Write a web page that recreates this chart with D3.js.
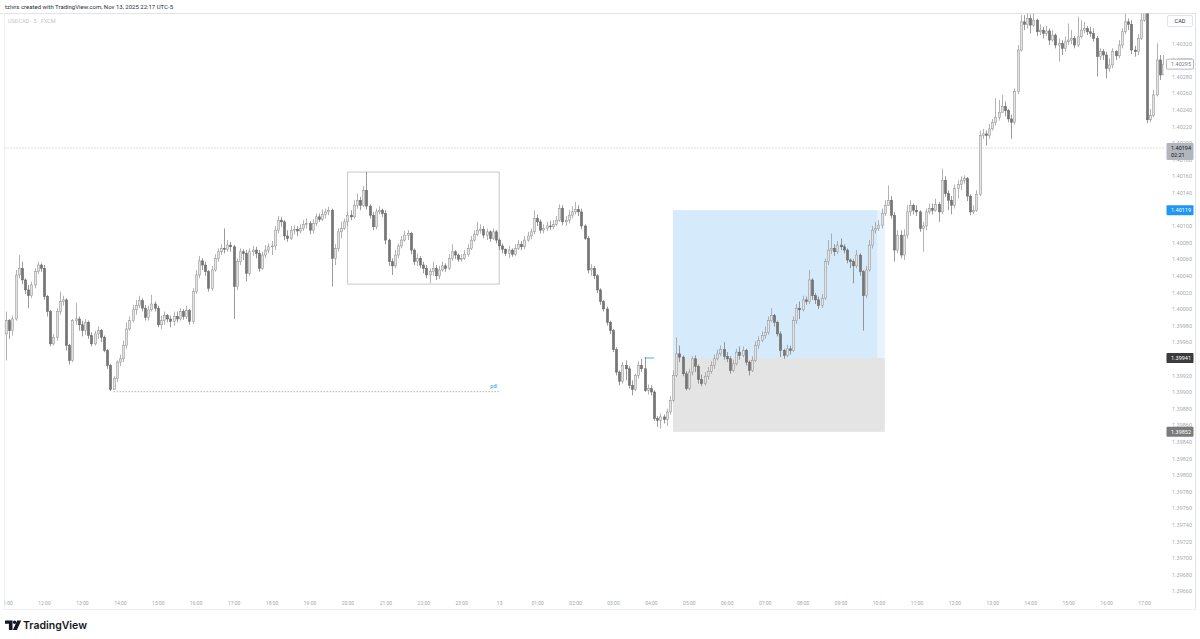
<!DOCTYPE html>
<html><head><meta charset="utf-8">
<script src="https://cdn.jsdelivr.net/npm/d3@7"></script>
<style>
body{margin:0;background:#fff;}
svg{display:block;font-family:Roboto,"Noto Sans",sans-serif;}
</style>
</head><body>
<svg id="chart" width="1200" height="639"></svg>
<script>
// ---------- DATA ----------
const headerText = "tzlvrs created with TradingView.com, Nov 13, 2025 22:17 UTC-5";
const symbolTitle = "USDCAD · 5 · FXCM";
const currencyLabel = "CAD";
const firstBarTime = new Date(2025, 10, 12, 11, 0);
const barMinutes = 5;
// prices stored in points above 1.39000 (1 point = 0.00001)
const pointBase = 1.39, pointSize = 0.00001;
const firstOpen = 970;
// each bar: [close, high, low]; open = previous close
const barsNov12Afternoon = [
[986,997,938],[974,988,964],[988,992,968],[1041,1047,986],[1049,1065,1037],[1035,1057,1030],[1023,1037,1018],[1016,1029,1001],[1029,1033,1013],[1045,1049,1025],
[1053,1057,1042],[1049,1055,1045],[1015,1053,1011],[997,1017,991],[958,999,955],[966,970,956],[997,1001,962],[1009,1021,993],[1011,1016,1004],[956,1013,950],
[938,958,933],[986,988,936],[988,1007,981],[981,991,974],[974,986,967],[984,988,969],[968,986,964],[958,972,955],[970,974,956],[974,979,964],
[966,976,960],[950,968,948],[932,952,928],[903,934,901],[916,919,903],[936,938,912],[940,945,931],[956,962,936],[976,984,952],[986,991,974],
[999,1005,984],[1004,1011,993],[1010,1016,1001],[1001,1013,997],[990,1005,986],[999,1004,986],[1006,1017,997],[1001,1009,997],[981,1004,978],[986,992,976],
[992,997,981],[988,994,984],[985,992,978],[991,997,980],[988,997,984],[997,1001,986],[991,1000,987],[998,1004,988],[985,1000,981],[1021,1025,982],
[1041,1047,1018],[1058,1064,1037],[1053,1061,1047],[1045,1057,1040],[1025,1047,1021],[1047,1052,1022],[1061,1066,1045],[1069,1073,1057],[1073,1078,1065],[1072,1097,1067],
[1077,1083,1069],[1075,1081,1069]
];
const barsNov12Evening = [
[1027,1077,988],[1057,1061,1023],[1069,1073,1053],[1067,1072,1059],[1043,1071,1033],[1069,1073,1040],[1071,1076,1064],[1067,1075,1061],
[1049,1071,1045],[1065,1069,1047],[1071,1077,1061],[1075,1079,1067],[1076,1082,1065],[1095,1100,1071],[1107,1112,1091],[1105,1111,1099],[1088,1107,1083],[1085,1095,1081],
[1095,1100,1083],[1096,1101,1090],[1094,1100,1088],[1097,1102,1091],[1102,1107,1094],[1103,1109,1097],[1095,1106,1090],[1103,1108,1091],[1111,1115,1100],[1108,1115,1105],
[1114,1120,1106],[1117,1121,1109],[1119,1123,1113],[1061,1121,1027],[1073,1078,1053],[1093,1097,1069],[1097,1105,1085],[1105,1109,1095],[1113,1117,1100],[1111,1119,1107],
[1125,1131,1109],[1131,1139,1121],[1125,1135,1119],[1143,1148,1123],[1124,1165,1120],[1113,1126,1109],[1099,1117,1095],[1117,1121,1096],[1119,1124,1114],[1115,1121,1111],
[1083,1119,1078],[1057,1085,1052],[1052,1061,1041],[1065,1071,1049],[1076,1079,1061],[1083,1088,1073],[1089,1094,1081],[1091,1095,1083],[1071,1093,1066],[1057,1073,1053],
[1061,1067,1052],[1053,1064,1049],[1049,1057,1043],[1041,1053,1037],[1045,1049,1031],[1049,1057,1040],[1040,1053,1035],[1047,1052,1036],[1052,1057,1045],[1049,1055,1045],
[1061,1066,1047],[1069,1078,1058],[1065,1071,1060],[1060,1067,1057],[1061,1066,1057],[1066,1071,1059],[1073,1078,1063],[1083,1088,1071],[1090,1095,1081],[1095,1105,1088],
[1096,1102,1091],[1089,1100,1085],[1093,1097,1083],[1085,1095,1081],[1093,1097,1083],[1083,1095,1079]
];
const barsNov13Asia = [
[1076,1085,1071],[1072,1079,1067],[1067,1073,1064],[1071,1076,1061],
[1066,1073,1063],[1073,1078,1064],[1078,1083,1071],[1075,1082,1071],[1083,1088,1072],[1088,1093,1081],[1093,1097,1084],[1109,1119,1090],[1105,1114,1100],[1095,1108,1091],
[1097,1102,1091],[1100,1105,1094],[1099,1106,1095],[1102,1107,1096],[1107,1112,1100],[1121,1126,1105],[1105,1125,1101],[1107,1112,1100],[1113,1119,1103],[1117,1124,1109],
[1120,1129,1114],[1117,1125,1112],[1100,1121,1096],[1085,1102,1083],[1047,1088,1043],[1049,1054,1040],[1040,1052,1036],[1023,1042,1019],[1009,1025,1005],[1000,1011,997],
[984,1003,980],[974,986,970],[951,976,948],[924,954,920],[913,926,908],[932,936,910],[928,938,914],[908,931,904],[903,914,896],[920,922,901],
[932,937,916],[928,940,924],[902,942,900],[904,909,897],[900,908,896],[868,902,865],[866,871,858],[870,874,856],[867,873,862],[876,880,859],
[890,895,873],[920,926,888],[946,966,918],[942,956,936],[922,944,919],[904,925,902],[924,928,902],[940,943,920],[931,944,924],[915,933,910],
[910,921,907],[919,924,908],[925,930,915],[932,937,922],[940,945,928],[946,951,938],[951,956,943],[943,960,939],[940,948,936],[926,943,922],
[934,939,924],[948,952,932],[944,955,939],[950,955,942],[936,952,932],[926,938,920],[938,943,924],[956,961,936],[962,967,952],[968,973,960],
[972,979,964],[986,991,969],[992,1001,984],[984,994,979],[970,986,967],[950,973,942],[944,952,940],[952,957,942],[950,956,945],[986,991,948],
[1001,1006,982],[999,1009,988]
];
const barsNov13London = [
[1011,1016,997],[1009,1015,1005],[1035,1047,1006],[1016,1037,1011],[1011,1019,1006],[1004,1015,1000],[1013,1018,1001],[1057,1061,1011],
[1071,1083,1053],[1073,1091,1066],[1069,1078,1064],[1077,1082,1066],[1075,1085,1071],[1071,1078,1067],[1059,1073,1055],[1057,1061,1049],[1052,1060,1031],[1065,1071,1049],
[1045,1067,1040],[1016,1047,974],[1047,1052,1013],[1077,1083,1045],[1095,1100,1073],[1097,1105,1091],[1101,1107,1094],[1115,1121,1097],[1125,1131,1112],[1131,1149,1124],
[1113,1136,1109],[1071,1117,1057],[1089,1095,1067],[1065,1095,1061],[1089,1096,1059],[1117,1125,1085],[1125,1131,1112],[1119,1127,1114],[1117,1125,1112],[1097,1119,1093],
[1100,1105,1069],[1117,1121,1095],[1121,1127,1114],[1119,1127,1114],[1126,1133,1117],[1117,1129,1105],[1155,1169,1114],[1139,1160,1135],[1131,1143,1119],[1125,1136,1114],
[1145,1150,1121],[1150,1155,1133],[1155,1160,1143],[1157,1161,1151],[1136,1159,1130],[1117,1138,1113],[1119,1125,1114],[1138,1143,1117]
];
const barsNov13NewYork = [
[1209,1215,1136],[1211,1217,1205],
[1209,1215,1197],[1217,1223,1205],[1225,1229,1215],[1231,1254,1221],[1237,1252,1227],[1244,1258,1237],[1239,1250,1232],[1229,1241,1225],[1225,1234,1205],[1262,1266,1222],
[1312,1318,1259],[1346,1354,1310],[1343,1354,1336],[1350,1362,1338],[1342,1355,1332],[1348,1360,1340],[1334,1350,1329],[1336,1343,1330],[1332,1340,1326],[1335,1341,1329],
[1324,1338,1318],[1330,1336,1322],[1318,1332,1314],[1320,1326,1298],[1314,1324,1306],[1322,1328,1310],[1324,1344,1318],[1326,1336,1319],[1318,1329,1314],[1328,1352,1316],
[1336,1348,1326],[1338,1346,1332],[1334,1341,1330],[1332,1340,1328],[1326,1338,1322],[1304,1329,1280],[1310,1314,1300],[1306,1313,1300],[1290,1310,1278],[1294,1302,1286],
[1310,1314,1290],[1305,1312,1300],[1318,1324,1302],[1334,1338,1314],[1346,1356,1331],[1343,1350,1336],[1312,1348,1307],[1310,1317,1304],[1326,1331,1306],[1348,1358,1324],
[1362,1372,1346],[1228,1362,1224],[1233,1241,1225],[1258,1264,1231],[1300,1320,1256],[1282,1306,1276],[1295,1306,1288]
];
const timeTickLabels = ["11:00","12:00","13:00","14:00","15:00","16:00","17:00","18:00","19:00","20:00","21:00","22:00","23:00","13",
  "01:00","02:00","03:00","04:00","05:00","06:00","07:00","08:00","09:00","10:00","11:00","12:00","13:00","14:00","15:00","16:00","17:00"];
const priceTicks = [1.39660,1.39680,1.39700,1.39720,1.39740,1.39760,1.39780,1.39800,1.39820,1.39840,1.39860,1.39880,1.39900,1.39920,1.39940,
  1.39960,1.39980,1.40000,1.40020,1.40040,1.40060,1.40080,1.40100,1.40120,1.40140,1.40160,1.40180,1.40200,1.40220,1.40240,1.40260,1.40280,1.40300,1.40320];
// drawings
const rangeBox = {from: new Date(2025,10,12,20,0), to: new Date(2025,10,13,0,0), top: 1.40165, bottom: 1.40030};
const pdlLine = {from: new Date(2025,10,12,13,50), to: new Date(2025,10,13,0,0), price: 1.39901, label: "pdl"};
const entryRay = {from: new Date(2025,10,13,3,50), to: new Date(2025,10,13,4,5), price: 1.39941};
const longPosition = {from: new Date(2025,10,13,4,35), targetHit: new Date(2025,10,13,9,58), to: new Date(2025,10,13,10,10),
  entry: 1.39941, target: 1.40119, stop: 1.39852};
const horizontalLine = {price: 1.40194, countdown: "02:21"};
const lastPrice = 1.40295;

// ---------- BUILD ----------
const rows = [...barsNov12Afternoon, ...barsNov12Evening, ...barsNov13Asia, ...barsNov13London, ...barsNov13NewYork];
const toPrice = p => +(pointBase + p * pointSize).toFixed(5);
let prevClose = firstOpen;
const bars = rows.map((r, i) => {
  const o = prevClose, c = r[0];
  prevClose = c;
  return {t: new Date(firstBarTime.getTime() + i * barMinutes * 60000),
    o: toPrice(o), c: toPrice(c), h: toPrice(Math.max(r[1], o, c)), l: toPrice(Math.min(r[2], o, c))};
});

const svg = d3.select("#chart");
const W = 1200, H = 639;
const plot = {left: 4.5, top: 13.5, right: 1164, bottom: 597};

const x = d3.scaleTime()
  .domain([new Date(2025,10,12,11,0), new Date(2025,10,13,17,0)])
  .range([6.07, 1144]);
const y = d3.scaleLinear().domain([1.40000, 1.40320]).range([309, 43.4]);

svg.append("rect").attr("width", W).attr("height", H).attr("fill", "#fff");

const defs = svg.append("defs");
defs.append("clipPath").attr("id", "plotClip").append("rect")
  .attr("x", plot.left).attr("y", plot.top).attr("width", plot.right - plot.left).attr("height", plot.bottom - plot.top);
defs.append("clipPath").attr("id", "timeClip").append("rect")
  .attr("x", plot.left).attr("y", plot.bottom).attr("width", plot.right - plot.left).attr("height", 14);

// header
svg.append("text").attr("x", 5).attr("y", 9).attr("font-size", 6).attr("fill", "#2a2e39").text(headerText);
// frame
svg.append("line").attr("x1", 0).attr("x2", 1196).attr("y1", 13.5).attr("y2", 13.5).attr("stroke", "#e0e3eb");
svg.append("line").attr("x1", plot.left).attr("x2", plot.left).attr("y1", 13.5).attr("y2", 610).attr("stroke", "#eef0f3");
svg.append("line").attr("x1", 1195.5).attr("x2", 1195.5).attr("y1", 13.5).attr("y2", 610).attr("stroke", "#e0e3eb");
svg.append("line").attr("x1", plot.left).attr("x2", 1196).attr("y1", 609.5).attr("y2", 609.5).attr("stroke", "#eef0f3");

const g = svg.append("g").attr("clip-path", "url(#plotClip)");

// long position boxes
g.append("rect").attr("x", x(longPosition.from)).attr("y", y(longPosition.target))
  .attr("width", x(longPosition.to) - x(longPosition.from)).attr("height", y(longPosition.entry) - y(longPosition.target))
  .attr("fill", "#e8f3fd");
g.append("rect").attr("x", x(longPosition.from)).attr("y", y(longPosition.target))
  .attr("width", x(longPosition.targetHit) - x(longPosition.from)).attr("height", y(longPosition.entry) - y(longPosition.target))
  .attr("fill", "#d5ebfc");
g.append("rect").attr("x", x(longPosition.from)).attr("y", y(longPosition.entry))
  .attr("width", x(longPosition.to) - x(longPosition.from)).attr("height", y(longPosition.stop) - y(longPosition.entry))
  .attr("fill", "#e4e4e4");

// range box
g.append("rect").attr("x", x(rangeBox.from)).attr("y", y(rangeBox.top))
  .attr("width", x(rangeBox.to) - x(rangeBox.from)).attr("height", y(rangeBox.bottom) - y(rangeBox.top))
  .attr("fill", "none").attr("stroke", "#c8c8c8").attr("stroke-width", 1);

// horizontal dotted line
g.append("line").attr("x1", plot.left).attr("x2", plot.right).attr("y1", y(horizontalLine.price)).attr("y2", y(horizontalLine.price))
  .attr("stroke", "#b8b8b8").attr("stroke-dasharray", "1,2");

// pdl
g.append("line").attr("x1", x(pdlLine.from)).attr("x2", x(pdlLine.to)).attr("y1", y(pdlLine.price) + 0.5).attr("y2", y(pdlLine.price) + 0.5)
  .attr("stroke", "#a0a0a0").attr("stroke-dasharray", "1.5,1.5").attr("stroke-width", 0.8);
g.append("text").attr("x", x(pdlLine.to) - 2).attr("y", y(pdlLine.price) - 3).attr("text-anchor", "end")
  .attr("font-size", 5).attr("fill", "#2196f3").text(pdlLine.label);

// entry ray
g.append("line").attr("x1", x(entryRay.from)).attr("x2", x(entryRay.to)).attr("y1", y(entryRay.price)).attr("y2", y(entryRay.price))
  .attr("stroke", "#2196f3").attr("stroke-width", 0.8);

// candles
const bw = 2.2;
const cg = g.append("g");
cg.selectAll("line.wick").data(bars).join("line").attr("class", "wick")
  .attr("x1", d => Math.round(x(d.t)) + 0.5).attr("x2", d => Math.round(x(d.t)) + 0.5)
  .attr("y1", d => y(d.h)).attr("y2", d => y(d.l))
  .attr("stroke", d => d.c >= d.o ? "#9a9a9a" : "#7a7a7a").attr("stroke-width", 0.75);
cg.selectAll("rect.body").data(bars).join("rect").attr("class", "body")
  .attr("x", d => Math.round(x(d.t)) + 0.5 - bw / 2)
  .attr("y", d => y(Math.max(d.o, d.c)))
  .attr("width", bw)
  .attr("height", d => Math.max(0.8, Math.abs(y(d.o) - y(d.c))))
  .attr("fill", d => d.c >= d.o ? "#e4e4e4" : "#767676")
  .attr("stroke", d => d.c >= d.o ? "#959595" : "#6a6a6a")
  .attr("stroke-width", 0.55);

// symbol title
svg.append("text").attr("x", 8).attr("y", 23).attr("font-size", 5.5).attr("fill", "#c3c5cb").text(symbolTitle);

// time axis
const hourTicks = timeTickLabels.map((_, i) => new Date(2025, 10, 12, 11 + i, 0));
const tAxis = svg.append("g").attr("clip-path", "url(#timeClip)").append("g").attr("transform", `translate(0,${plot.bottom + 1})`)
  .call(d3.axisBottom(x).tickValues(hourTicks).tickFormat((d, i) => timeTickLabels[i]).tickSize(0).tickPadding(3));
tAxis.select(".domain").remove();
tAxis.selectAll("text").attr("font-size", 5).attr("fill", "#a3a6af").attr("font-family", "Roboto,sans-serif");

// price axis
const pAxis = svg.append("g").attr("transform", "translate(1172,0)")
  .call(d3.axisRight(y).tickValues(priceTicks).tickFormat(d3.format(".5f")).tickSize(0).tickPadding(0));
pAxis.select(".domain").remove();
pAxis.selectAll("text").attr("font-size", 5.5).attr("fill", "#a8abb3").attr("font-family", "Roboto,sans-serif");

// CAD box
svg.append("rect").attr("x", 1167.5).attr("y", 15.5).attr("width", 25).attr("height", 11).attr("rx", 1.5)
  .attr("fill", "#fff").attr("stroke", "#e0e3eb");
svg.append("text").attr("x", 1180).attr("y", 23).attr("text-anchor", "middle").attr("font-size", 5.5).attr("fill", "#2a2e39").text(currencyLabel);

// price labels on axis
function priceLabel(price, fill, textFill, stroke, sub) {
  const yy = y(price);
  const h = sub ? 17 : 10;
  const top = yy - 5;
  svg.append("rect").attr("x", 1166.5).attr("y", top).attr("width", 27).attr("height", h).attr("rx", 1)
    .attr("fill", fill).attr("stroke", stroke || "none").attr("stroke-width", 0.8);
  svg.append("text").attr("x", 1171).attr("y", yy + 2).attr("font-size", 5.5).attr("fill", textFill)
    .text(d3.format(".5f")(price));
  if (sub) svg.append("text").attr("x", 1171).attr("y", yy + 9.5).attr("font-size", 5.5).attr("fill", textFill).text(sub);
}
priceLabel(lastPrice, "#ffffff", "#787b86", "#a0a3ab");
priceLabel(horizontalLine.price, "#b2b5bc", "#131722", null, horizontalLine.countdown);
priceLabel(longPosition.target, "#2196f3", "#ffffff");
priceLabel(longPosition.entry, "#3b3b3b", "#ffffff");
priceLabel(longPosition.stop, "#7b7b7b", "#ffffff");

// TradingView logo
const logo = svg.append("g").attr("fill", "#131722");
logo.append("path").attr("d", "M5,620.5 h7.5 v9.5 h-3.6 v-6.2 h-3.9 z");
logo.append("circle").attr("cx", 14.6).attr("cy", 622.2).attr("r", 1.7);
logo.append("path").attr("d", "M17.2,620.5 h4 l-4.3,9.5 h-4 z");
svg.append("text").attr("x", 23).attr("y", 629).attr("font-size", 10.5).attr("font-weight", 600)
  .attr("fill", "#131722").attr("font-family", "Inter,Roboto,sans-serif").text("TradingView");
</script>
</body></html>
